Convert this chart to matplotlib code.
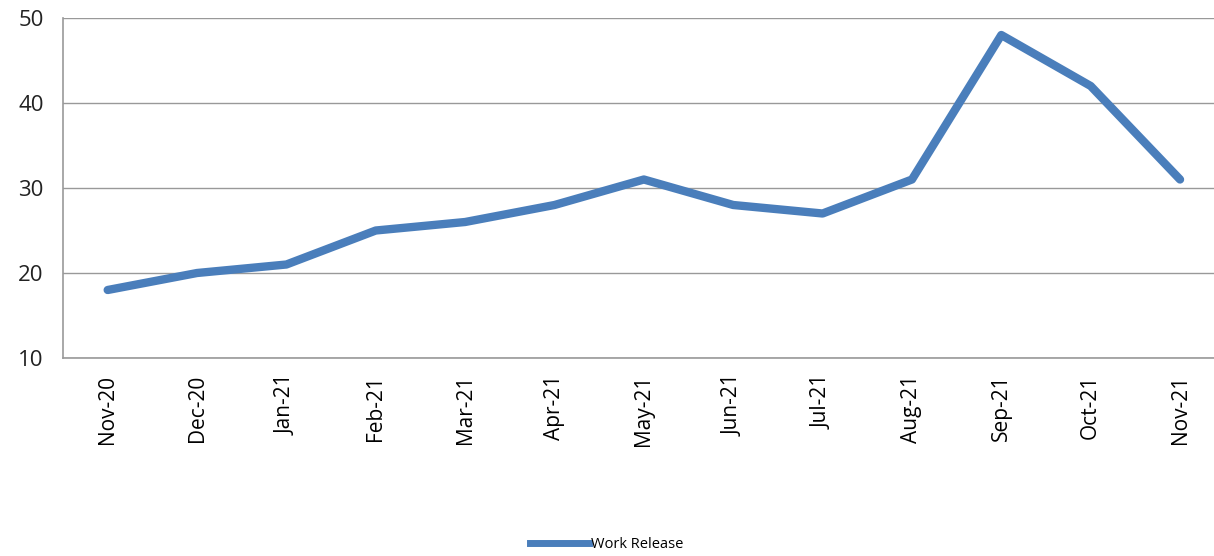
import matplotlib
matplotlib.use("Agg")
import matplotlib.pyplot as plt
from matplotlib.lines import Line2D

months = ["Nov-20", "Dec-20", "Jan-21", "Feb-21", "Mar-21", "Apr-21", "May-21",
          "Jun-21", "Jul-21", "Aug-21", "Sep-21", "Oct-21", "Nov-21"]
work_release = [18, 20, 21, 25, 26, 28, 31, 28, 27, 31, 48, 42, 31]
y_ticks = [10, 20, 30, 40, 50]

plt.rcParams["font.family"] = ["Open Sans", "DejaVu Sans"]

fig = plt.figure(figsize=(12.14, 5.56), dpi=100)
ax = fig.add_axes([63 / 1214, 1 - 358 / 556, 1 - 63 / 1214, 340 / 556])

x = list(range(len(months)))
ax.plot(x, work_release, color="#4a7ebb", linewidth=6, solid_capstyle="round",
        solid_joinstyle="round", zorder=3)

ax.set_xlim(-0.5, 12.38)
ax.set_ylim(10, 50)
ax.set_yticks(y_ticks)
ax.set_xticks(x)
ax.set_xticklabels(months, rotation=90, fontsize=15, color="black")
ax.tick_params(axis="y", labelsize=16, length=0, pad=14, labelcolor="#222222")
ax.tick_params(axis="x", length=0, pad=12)
ax.grid(axis="y", color="#999999", linewidth=1)
ax.set_axisbelow(True)
for side in ["top", "right"]:
    ax.spines[side].set_visible(False)
for side in ["left", "bottom"]:
    ax.spines[side].set_color("#999999")
    ax.spines[side].set_linewidth(1.2)

handle = Line2D([0], [0], color="#4a7ebb", linewidth=5)
fig.legend([handle], ["Work Release"], loc="center", bbox_to_anchor=(607 / 1214, 1 - 545 / 556),
           frameon=False, fontsize=10.5, handlelength=4, handletextpad=0.2)

fig.savefig("out.png", dpi=100)
